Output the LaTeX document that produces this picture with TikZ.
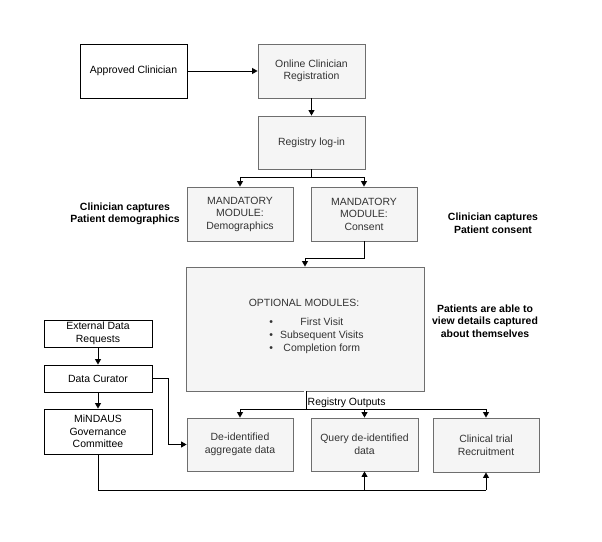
\documentclass[tikz,border=0pt]{standalone}
\usepackage{fontspec}
\setmainfont{Liberation Sans}
\usetikzlibrary{arrows.meta}
\definecolor{boxfill}{HTML}{F5F5F5}
\definecolor{boxline}{HTML}{6E6E6E}
\definecolor{boxtext}{HTML}{333333}

\begin{document}
\begin{tikzpicture}[x=1bp, y=-1bp, font=\fontsize{10.5}{12.6}\selectfont,
	plainbox/.style={draw=black, fill=white, line width=0.9bp, align=center, inner sep=1bp},
	greybox/.style={draw=boxline, fill=boxfill, text=boxtext, line width=0.9bp, align=center, inner sep=1bp},
	note/.style={font=\fontsize{10.5}{12.6}\selectfont\bfseries, align=center},
	arr/.style={-{Triangle[length=5.5bp,width=6bp]}, line width=0.9bp}]
	\useasboundingbox (0,0) rectangle (602,542);
	%top
	\node[plainbox, minimum width=107bp, minimum height=54bp] (approved) at (133.5,71) {Approved Clinician};
	\node[greybox, minimum width=107bp, minimum height=54bp] (online) at (311.5,71) {Online Clinician\\Registration};
	\node[greybox, minimum width=107bp, minimum height=53bp] (login) at (311.5,142.5) {Registry log-in};
	%mandatory modules
	\node[greybox, minimum width=106bp, minimum height=54bp] (demog) at (240,214) {MANDATORY\\MODULE:\\Demographics};
	\node[greybox, minimum width=106bp, minimum height=54bp] (consent) at (364,214) {MANDATORY\\MODULE:\\Consent};
	\node[note] (demoglabel) at (125,214) {Clinician captures\\Patient demographics};
	\node[note] (consentlabel) at (493,223) {Clinician captures\\Patient consent};
	%optional modules
	\node[greybox, minimum width=238bp, minimum height=124bp] (optional) at (305,329) {};
	\node[text=boxtext] (optitle) at (304,303) {OPTIONAL MODULES:};
	\node[text=boxtext, inner sep=0pt] (optlist) at (316.5,336)
	{
		\begin{tabular}{@{}c@{\hspace{7bp}}c@{}}
			\textbullet & First Visit\\
			\textbullet & Subsequent Visits\\
			\textbullet & Completion form
		\end{tabular}
	};
	\node[note] (patientlabel) at (485,321) {Patients are able to\\view details captured\\about themselves};
	%outputs
	\node[greybox, minimum width=106bp, minimum height=53bp] (deid) at (240,444.5) {De-identified\\aggregate data};
	\node[greybox, minimum width=107bp, minimum height=53bp] (query) at (364.5,444.5) {Query de-identified\\data};
	\node[greybox, minimum width=106bp, minimum height=54bp] (trial) at (486,445) {Clinical trial\\Recruitment};
	%data requests
	\node[plainbox, minimum width=108bp, minimum height=27bp] (extreq) at (98,333.5) {External Data\\Requests};
	\node[plainbox, minimum width=108bp, minimum height=27bp] (curator) at (98,378.5) {Data Curator};
	\node[plainbox, minimum width=108bp, minimum height=45bp] (gov) at (98,431.5) {MiNDAUS\\Governance\\Committee};
	
	%connectors
	\draw[arr] (approved) -- (online);
	\draw[arr] (online) -- (login);
	\coordinate (split) at (311.5,177);
	\draw[line width=0.9bp] (login.south) -- (split);
	\draw[arr] (split) -| (demog.north);
	\draw[arr] (split) -| (consent.north);
	\draw[arr] (consent.south) -- ++(0,17) -| (optional.north);
	
	\coordinate (outs) at (305,409);
	\draw[line width=0.7bp, double, double distance=1.6bp] (optional.south) -- (outs);
	\node[anchor=west, inner sep=0pt] (outlabel) at (307.5,403) {Registry Outputs};
	\draw[line width=0.9bp] (deid.north |- outs) -- (trial.north |- outs);
	\foreach \n in {deid,query,trial}
	\draw[arr] (\n.north |- outs) -- (\n.north);
	
	\draw[arr] (extreq) -- (curator);
	\draw[arr] (curator) -- (gov);
	\draw[arr] (curator.east) -- ++(16,0) |- (deid.west);
	\coordinate (rail) at (98,490);
	\draw[line width=0.9bp] (gov.south) -- (rail) -- (trial.south |- rail);
	\foreach \n in {query,trial}
	\draw[arr] (\n.south |- rail) -- (\n.south);
\end{tikzpicture}
\end{document}
